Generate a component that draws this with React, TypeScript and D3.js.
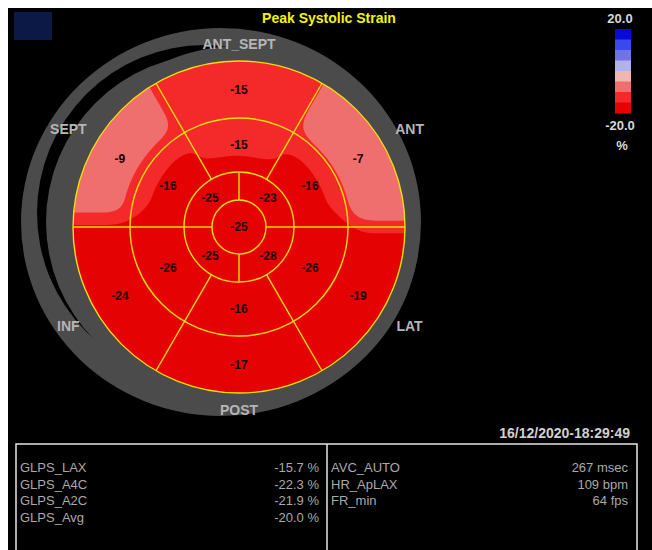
import React, { useMemo } from 'react';
import * as d3 from 'd3';

const W = 652;
const H = 550;

// 17-segment bull's eye, walls listed clockwise from 12 o'clock
const wallNames = ['ANT_SEPT', 'ANT', 'LAT', 'POST', 'INF', 'SEPT'];
const basalValues = [-15, -7, -19, -17, -24, -9];
const midValues = [-15, -16, -26, -16, -26, -16];
const apicalValues = [-23, -28, -25, -25]; // at 45, 135, 225, 315 deg
const apexValue = -25;

const title = 'Peak Systolic Strain';
const legendMax = '20.0';
const legendMin = '-20.0';
const legendUnit = '%';
// top (20) to bottom (-20)
const legendColors = ['#0a0ad8', '#3a48ec', '#7272e8', '#b0b2ee', '#f2b6b0', '#ef6e6e', '#f42a2a', '#e40202'];
const legendSteps = [15, 10, 5, 0, -5, -10, -15];

const globalLabels = ['GLPS_LAX', 'GLPS_A4C', 'GLPS_A2C', 'GLPS_Avg'];
const globalValues = ['-15.7 %', '-22.3 %', '-21.9 %', '-20.0 %'];
const infoLabels = ['AVC_AUTO', 'HR_ApLAX', 'FR_min'];
const infoValues = ['267 msec', '109 bpm', '64 fps'];
const timestamp = '16/12/2020-18:29:49';

const rad = (deg: number) => (deg * Math.PI) / 180;
const polar = (deg: number, r: number): [number, number] => [Math.sin(rad(deg)) * r, -Math.cos(rad(deg)) * r];

export default function App() {
  const cx = 239;
  const cy = 227;
  const ringR = [27, 55, 109, 166]; // apex, apical, mid, basal outer radius
  const labelR = [0, (ringR[0] + ringR[1]) / 2, (ringR[1] + ringR[2]) / 2, (ringR[2] + ringR[3]) / 2];
  const wallLabelR = [183, 197, 197, 183, 197, 197];

  const color = d3
    .scaleThreshold<number, string>()
    .domain([...legendSteps].reverse())
    .range([...legendColors].reverse());

  // segment value at each point, blurred so neighbouring segments blend,
  // then banded on the legend steps (values rounded to whole percent)
  const contourPaths = useMemo(() => {
    const step = 2;
    const n = 184;
    const half = (n * step) / 2;
    const round = 0.5;
    const values = new Float64Array(n * n);
    for (let j = 0; j < n; j++) {
      for (let i = 0; i < n; i++) {
        const x = -half + (i + 0.5) * step;
        const y = -half + (j + 0.5) * step;
        const r = Math.hypot(x, y);
        const a = ((Math.atan2(x, -y) * 180) / Math.PI + 360) % 360;
        let v: number;
        if (r < ringR[0]) v = apexValue;
        else if (r < ringR[1]) v = apicalValues[Math.floor(a / 90) % 4];
        else if (r < ringR[2]) v = midValues[Math.floor(((a + 30) % 360) / 60)];
        else v = basalValues[Math.floor(((a + 30) % 360) / 60)];
        values[j * n + i] = v;
      }
    }
    d3.blur2({ data: values, width: n }, 5);
    const contours = d3
      .contours()
      .size([n, n])
      .thresholds(color.domain().map(t => t - round))(Array.from(values));
    const path = d3.geoPath(d3.geoIdentity().scale(step).translate([-half, -half]) as any);
    return contours.map(c => ({ d: path(c as any) || '', fill: color(c.value + round) }));
  }, []);

  const segLabels = [
    { p: [0, 0] as [number, number], v: apexValue },
    ...apicalValues.map((v, i) => ({ p: polar(45 + 90 * i, labelR[1]), v })),
    ...midValues.map((v, i) => ({ p: polar(60 * i, labelR[2]), v })),
    ...basalValues.map((v, i) => ({ p: polar(60 * i, labelR[3]), v })),
  ];

  const dividers = [
    ...d3.range(4).map(i => ({ a: 90 * i, r0: ringR[0], r1: ringR[1] })),
    ...d3.range(6).map(i => ({ a: 30 + 60 * i, r0: ringR[1], r1: ringR[3] })),
  ];

  const legendY = d3.scaleBand<number>().domain(d3.range(legendColors.length)).range([29, 113]);
  const rowY = d3.scaleLinear().domain([0, 1]).range([472, 488.5]);

  const yellow = '#f0dc0a';
  const grey = '#4b4b4b';
  const tableText = '#a9a9a9';

  return (
    <svg
      width={W}
      height={H}
      style={{ position: 'fixed', left: 0, top: 0 }}
      fontFamily="'Liberation Sans', Arial, sans-serif"
    >
      <rect x={0} y={0} width={W} height={H} fill="#fff" />
      <rect x={8} y={8} width={W - 8} height={H - 8} fill="#000" />
      <rect x={14} y={12} width={38} height={28} fill="#0c1846" />

      <text x={329} y={23} textAnchor="middle" fill="#f4f40a" fontWeight="bold" fontSize={14}>
        {title}
      </text>

      {/* myocardial wall outline */}
      <ellipse cx={221} cy={222} rx={200} ry={194} fill={grey} />
      <circle cx={205} cy={213} r={168} fill="#000" />
      <circle cx={214} cy={222} r={168} fill={grey} />
      <circle cx={cx} cy={cy} r={181} fill={grey} />

      {wallNames.map((name, i) => {
        const [x, y] = polar(60 * i, wallLabelR[i]);
        return (
          <text key={name} x={cx + x} y={cy + y} dy="0.36em" textAnchor="middle" fill="#b6b6b6" fontWeight="bold" fontSize={14}>
            {name}
          </text>
        );
      })}

      <defs>
        <clipPath id="bullClip">
          <circle r={ringR[3]} />
        </clipPath>
      </defs>

      <g transform={`translate(${cx},${cy})`}>
        <g clipPath="url(#bullClip)">
          <circle r={ringR[3]} fill={color(-20)} />
          {contourPaths.map((c, i) => (
            <path key={i} d={c.d} fill={c.fill} />
          ))}
        </g>
        {ringR.map(r => (
          <circle key={r} r={r} fill="none" stroke={yellow} strokeWidth={1.4} />
        ))}
        {dividers.map((d, i) => {
          const [x0, y0] = polar(d.a, d.r0);
          const [x1, y1] = polar(d.a, d.r1);
          return <line key={i} x1={x0} y1={y0} x2={x1} y2={y1} stroke={yellow} strokeWidth={1.4} />;
        })}
        {segLabels.map((s, i) => (
          <text key={i} x={s.p[0]} y={s.p[1]} dy="0.36em" textAnchor="middle" fill="#1a0202" fontWeight="bold" fontSize={12}>
            {s.v}
          </text>
        ))}
      </g>

      {/* colour legend */}
      <text x={620} y={23} textAnchor="middle" fill="#d8d8d8" fontWeight="bold" fontSize={13}>
        {legendMax}
      </text>
      {legendColors.map((c, i) => (
        <rect key={i} x={615} y={legendY(i)} width={16} height={legendY.bandwidth() + 0.5} fill={c} />
      ))}
      <text x={620} y={130} textAnchor="middle" fill="#d8d8d8" fontWeight="bold" fontSize={13}>
        {legendMin}
      </text>
      <text x={622} y={150} textAnchor="middle" fill="#d8d8d8" fontWeight="bold" fontSize={13}>
        {legendUnit}
      </text>

      <text x={630} y={438} textAnchor="end" fill="#d0d0d0" fontWeight="bold" fontSize={14}>
        {timestamp}
      </text>

      {/* results table */}
      <g fill="none" stroke="#e6e6e6" strokeWidth={1.5}>
        <polyline points={`16,${H} 16,444 637,444 637,${H}`} />
        <line x1={327} y1={444} x2={327} y2={H} />
      </g>
      {globalLabels.map((l, i) => (
        <g key={l} fontSize={13} fill={tableText}>
          <text x={20} y={rowY(i)}>{l}</text>
          <text x={319} y={rowY(i)} textAnchor="end">{globalValues[i]}</text>
        </g>
      ))}
      {infoLabels.map((l, i) => (
        <g key={l} fontSize={13} fill={tableText}>
          <text x={331} y={rowY(i)}>{l}</text>
          <text x={628} y={rowY(i)} textAnchor="end">{infoValues[i]}</text>
        </g>
      ))}
    </svg>
  );
}
